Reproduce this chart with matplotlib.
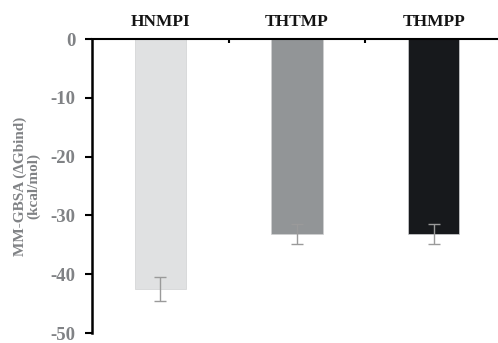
import matplotlib
matplotlib.use("Agg")
import matplotlib.pyplot as plt

categories = ["HNMPI", "THTMP", "THMPP"]
values = [-42.5, -33.2, -33.2]
errors = [2.1, 1.7, 1.7]
colors = ["#e0e1e2", "#929597", "#17191c"]
yticks = [0, -10, -20, -30, -40, -50]

plt.rcParams['font.family'] = ['Liberation Serif', 'DejaVu Serif']

fig = plt.figure(figsize=(4.98, 3.43), dpi=100)
ax = fig.add_axes([92/498, 1-333/343, (498-92)/498, (333-39)/343])

x = list(range(len(categories)))
ax.bar(x, values, width=0.375, color=colors, edgecolor="#d0d1d2", linewidth=0.5,
       yerr=errors, error_kw=dict(ecolor="#9a9a9a", elinewidth=1.0, capsize=4, capthick=1.0))

ax.set_xlim(-0.5, 2.47)
ax.set_ylim(-50, 0)
ax.set_yticks(yticks)
ax.set_yticklabels([str(t) for t in yticks], fontsize=13.5, fontweight='bold', color='#808285')
ax.tick_params(axis='y', direction='out', length=5, width=1.5, pad=7, color='black')

ax.xaxis.tick_top()
ax.set_xticks(x)
ax.set_xticklabels(categories, fontsize=12.5, fontweight='bold', color='#141414')
ax.tick_params(axis='x', which='major', length=0, pad=6.5)
ax.set_xticks([0.5, 1.5], minor=True)
ax.tick_params(axis='x', which='minor', direction='in', length=3, width=1.5, color='black')

for s in ['bottom', 'right']:
    ax.spines[s].set_visible(False)
ax.spines['left'].set_linewidth(1.8)
ax.spines['top'].set_linewidth(1.5)

fig.text(27/498, 1-186/343, "MM-GBSA (\u0394Gbind)\n(kcal/mol)", rotation=90,
         ha='center', va='center', multialignment='center',
         fontsize=11, fontweight='bold', color='#808285', linespacing=0.95)

fig.savefig("out.png", dpi=100)
